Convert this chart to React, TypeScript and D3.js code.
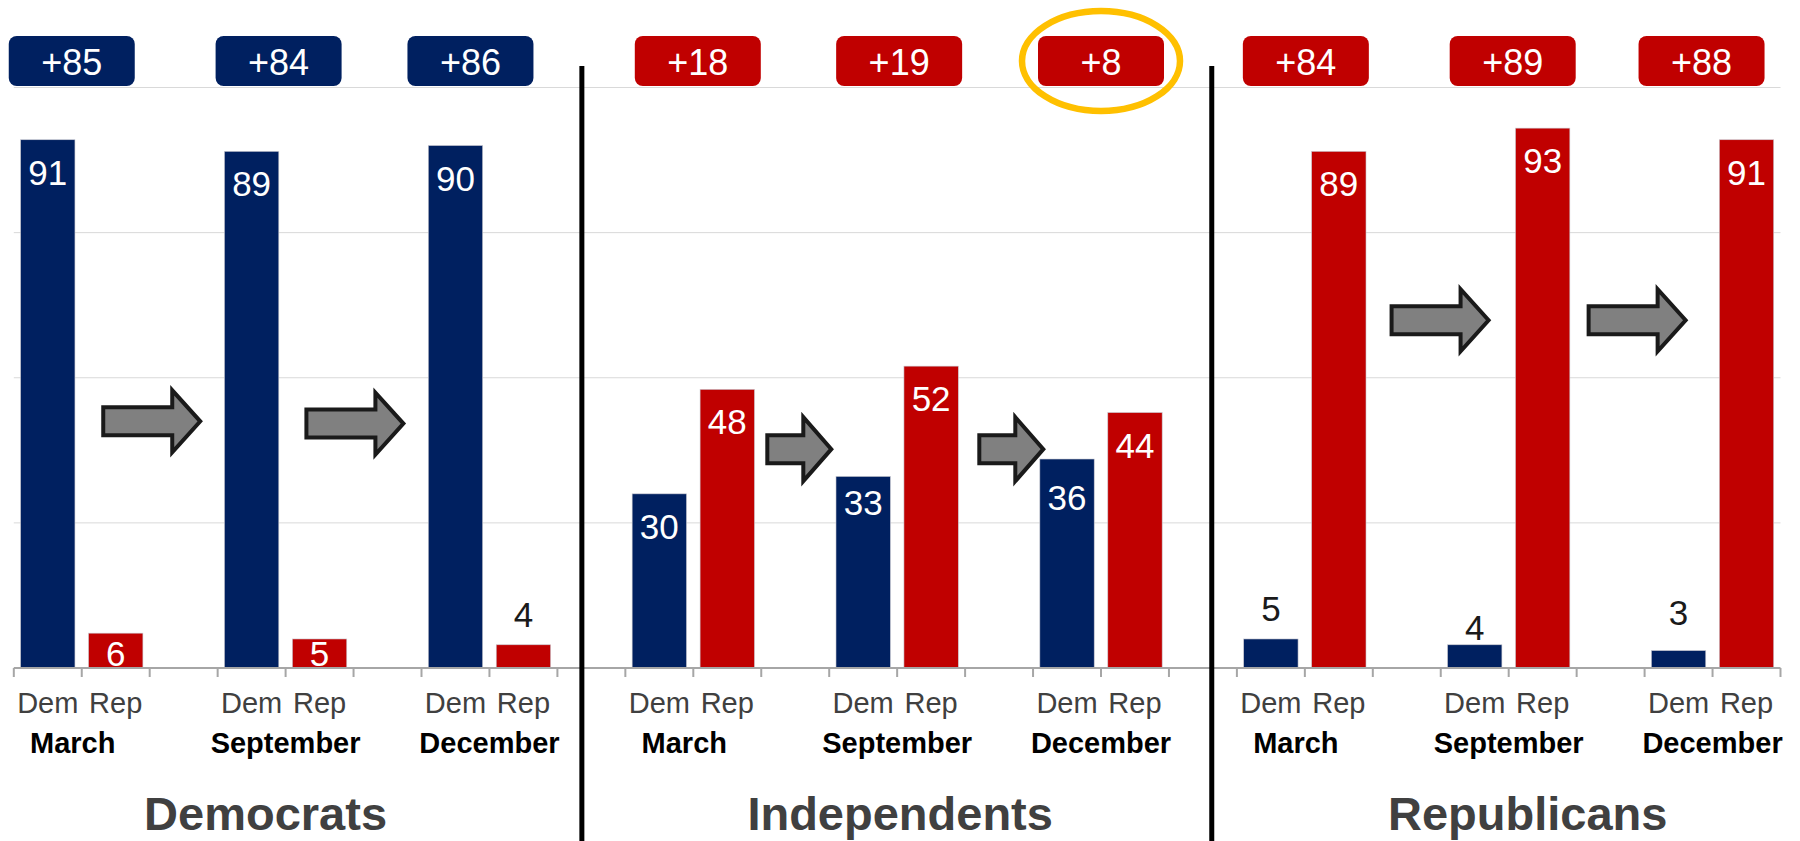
import React from "react";
import * as d3 from "d3";

// ---------- data ----------
const panels = ["Democrats", "Independents", "Republicans"];
const months = ["March", "September", "December"];
const sides = ["Dem", "Rep"];
// share voting for each party, by panel (rows) and month (columns)
const demShare = [
  [91, 89, 90],
  [30, 33, 36],
  [5, 4, 3],
];
const repShare = [
  [6, 5, 4],
  [48, 52, 44],
  [89, 93, 91],
];
const leadLabels = [
  ["+85", "+84", "+86"],
  ["+18", "+19", "+8"],
  ["+84", "+89", "+88"],
];
const highlighted = { panel: "Independents", month: "December" };
const yTicks = [25, 50, 75, 100];

// ---------- layout / style ----------
const W = 1800;
const H = 841;
const FONT = "'Liberation Sans', Arial, Helvetica, sans-serif";
const NAVY = "#002060";
const RED = "#C00000";
const TEXT_GRAY = "#404040";
// which value labels sit above their bar instead of inside
const outsideLabels = new Set([
  "Democrats|December|Rep",
  "Republicans|March|Dem",
  "Republicans|September|Dem",
  "Republicans|December|Dem",
]);
const outsideLabelNudge = {
  "Republicans|September|Dem": 13,
  "Republicans|December|Dem": -8,
};
const insideLabelNudge = {
  "Independents|September|Dem": -6,
  "Independents|December|Dem": 6,
};
const badgeNudge = [
  [-10, -7, -19],
  [4.5, 2, 0],
  [1, 4, -11],
];
const monthNudge = [-9, 0, 0];
const titleNudge = [-20, 3, 19];
// arrow placement: offset (in bands) within the gap band after each month, vertical centre in value units
const arrowSpec = [
  [{ off: 0.03, v: 42.5, w: 97, h: 62 }, { off: 0.02, v: 42.1, w: 97, h: 62 }],
  [{ off: 0.56, v: 37.7, w: 64, h: 64 }, { off: 0.68, v: 37.7, w: 64, h: 64 }],
  [{ off: 0.99, v: 59.9, w: 97, h: 62 }, { off: 0.89, v: 59.9, w: 97, h: 62 }],
];
const dividerOffset = [0.36, 0.63];

// ---------- scales ----------
const keys: string[] = [];
panels.forEach((p, pi) => {
  if (pi > 0) keys.push(`gap${pi}`);
  months.forEach((m, mi) => {
    sides.forEach((s) => keys.push(`${p}|${m}|${s}`));
    if (mi < months.length - 1) keys.push(`${p}|${m}|gap`);
  });
});

const x = d3.scaleBand<string>().domain(keys).range([13.8, 1780.5]).padding(0);
const bw = x.bandwidth();
const y = d3.scaleLinear().domain([0, 100]).range([668, 87.5]);
const x0 = x.range()[0];
const x1 = x.range()[1];

function arrowPath(cx: number, cy: number, w: number, h: number) {
  const head = 28;
  const sh = 14;
  const l = cx - w / 2;
  const r = cx + w / 2;
  const hb = r - head;
  const hh = h / 2;
  return `M${l},${cy - sh} L${hb},${cy - sh} L${hb},${cy - hh} L${r},${cy} L${hb},${cy + hh} L${hb},${cy + sh} L${l},${cy + sh} Z`;
}

export default function App() {
  React.useEffect(() => {
    document.body.style.margin = "0";
  }, []);

  const bars: any[] = [];
  panels.forEach((p, pi) =>
    months.forEach((m, mi) => {
      bars.push({ key: `${p}|${m}|Dem`, v: demShare[pi][mi], color: NAVY });
      bars.push({ key: `${p}|${m}|Rep`, v: repShare[pi][mi], color: RED });
    })
  );

  const boundaries = d3.range(keys.length + 1).map((i) => x0 + i * bw);

  return (
    <svg
      width={W}
      height={H}
      style={{ position: "absolute", left: 0, top: 0, background: "#fff" }}
      fontFamily={FONT}
    >
      {/* gridlines */}
      {yTicks.map((t) => (
        <line key={t} x1={x0} x2={x1} y1={y(t)} y2={y(t)} stroke="#d9d9d9" strokeWidth={1} />
      ))}

      {/* bars */}
      {bars.map((b) => (
        <rect
          key={b.key}
          x={x(b.key)! + bw * 0.1}
          width={bw * 0.8}
          y={y(b.v)}
          height={y(0) - y(b.v)}
          fill={b.color}
          stroke="#c8c8d0"
          strokeWidth={0.6}
        />
      ))}

      {/* value labels */}
      {bars.map((b) => {
        const cx = x(b.key)! + bw / 2;
        const top = y(b.v);
        const out = outsideLabels.has(b.key);
        const yy = out
          ? top - 18 + ((outsideLabelNudge as any)[b.key] || 0)
          : Math.min(top + 45 + ((insideLabelNudge as any)[b.key] || 0), y(0) - 2);
        return (
          <text
            key={"l" + b.key}
            x={cx}
            y={yy}
            textAnchor="middle"
            fontSize={35}
            fill={out ? "#1a1a1a" : "#ffffff"}
          >
            {b.v}
          </text>
        );
      })}

      {/* axis line and ticks */}
      <line x1={x0} x2={x1} y1={y(0)} y2={y(0)} stroke="#a6a6a6" strokeWidth={2} />
      {boundaries.map((bx, i) => (
        <line key={"t" + i} x1={bx} x2={bx} y1={y(0)} y2={y(0) + 9} stroke="#a6a6a6" strokeWidth={2} />
      ))}

      {/* Dem / Rep labels */}
      {bars.map((b) => (
        <text
          key={"c" + b.key}
          x={x(b.key)! + bw / 2}
          y={713}
          textAnchor="middle"
          fontSize={29}
          fill={TEXT_GRAY}
        >
          {b.key.split("|")[2]}
        </text>
      ))}

      {/* month labels */}
      {panels.map((p) =>
        months.map((m, mi) => (
          <text
            key={"m" + p + m}
            x={x(`${p}|${m}|Rep`)! + monthNudge[mi]}
            y={753}
            textAnchor="middle"
            fontSize={29}
            fontWeight="bold"
            fill="#000"
          >
            {m}
          </text>
        ))
      )}

      {/* panel titles */}
      {panels.map((p, pi) => {
        const a = x(`${p}|${months[0]}|Dem`)!;
        const b = x(`${p}|${months[months.length - 1]}|Rep`)! + bw;
        return (
          <text
            key={"p" + p}
            x={(a + b) / 2 + titleNudge[pi]}
            y={830}
            textAnchor="middle"
            fontSize={47}
            fontWeight="bold"
            fill={TEXT_GRAY}
          >
            {p}
          </text>
        );
      })}

      {/* arrows */}
      {panels.map((p, pi) =>
        arrowSpec[pi].map((a, ai) => {
          const cx = x(`${p}|${months[ai]}|gap`)! + a.off * bw;
          return (
            <path
              key={"a" + p + ai}
              d={arrowPath(cx, y(a.v), a.w, a.h)}
              fill="#808080"
              stroke="#1a1a1a"
              strokeWidth={4}
              strokeLinejoin="miter"
            />
          );
        })
      )}

      {/* lead badges */}
      {panels.map((p, pi) =>
        months.map((m, mi) => {
          const cx = x(`${p}|${m}|Rep`)! + badgeNudge[pi][mi];
          const demLead = demShare[pi][mi] > repShare[pi][mi];
          const by = y(100) - 51.5;
          const isHi = highlighted.panel === p && highlighted.month === m;
          return (
            <g key={"b" + p + m}>
              <rect x={cx - 63} y={by} width={126} height={50} rx={8} ry={8} fill={demLead ? NAVY : RED} />
              <text x={cx} y={by + 38.6} textAnchor="middle" fontSize={36} fill="#fff">
                {leadLabels[pi][mi]}
              </text>
              {isHi && (
                <ellipse cx={cx} cy={by + 25} rx={79} ry={50} fill="none" stroke="#FFC000" strokeWidth={6.5} />
              )}
            </g>
          );
        })
      )}

      {/* panel dividers */}
      {dividerOffset.map((off, i) => {
        const gx = x(`gap${i + 1}`)! + off * bw;
        return <rect key={"d" + i} x={gx - 2.5} y={y(100) - 21.5} width={5} height={H} fill="#000" />;
      })}
    </svg>
  );
}
